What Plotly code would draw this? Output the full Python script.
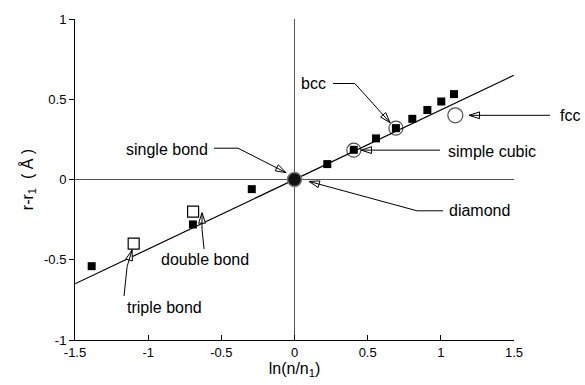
import math
import plotly.graph_objects as go

# ---- data ----
sq_x = [-1.386, -0.694, -0.292, 0.224, 0.405, 0.557, 0.693, 0.805, 0.908, 1.003, 1.090]
sq_y = [-0.54, -0.28, -0.06, 0.096, 0.185, 0.256, 0.32, 0.378, 0.433, 0.486, 0.532]
open_sq_x = [-1.099, -0.693]
open_sq_y = [-0.40, -0.20]
circ_x = [0.405, 0.693, 1.099]
circ_y = [0.183, 0.32, 0.40]
origin_x = [0.0]
origin_y = [0.0]
fit_x = [-1.5, 1.5]
fit_y = [-0.65, 0.65]
xtick_vals = [-1.5, -1, -0.5, 0, 0.5, 1, 1.5]
xtick_text = ["-1.5", "-1", "-0.5", "0", "0.5", "1", "1.5"]
ytick_vals = [-1, -0.5, 0, 0.5, 1]
ytick_text = ["-1", "-0.5", "0", "0.5", "1"]

# annotation labels: text, anchor point, xanchor, leader polyline (data coords, last = arrow tip)
labels = [
    ("bcc", (0.133, 0.598), "center", [(0.263, 0.598), (0.413, 0.598), (0.653, 0.354)]),
    ("fcc", (1.80, 0.40), "left", [(1.746, 0.40), (1.193, 0.40)]),
    ("simple cubic", (1.035, 0.177), "left", [(0.994, 0.183), (0.455, 0.183)]),
    ("diamond", (1.042, -0.195), "left", [(1.015, -0.195), (0.837, -0.195), (0.099, -0.012)]),
    ("single bond", (-0.577, 0.189), "right", [(-0.550, 0.195), (-0.386, 0.195), (-0.058, 0.043)]),
    ("double bond", (-0.612, -0.50), "center", [(-0.618, -0.433), (-0.632, -0.311), (-0.632, -0.207)]),
    ("triple bond", (-0.885, -0.799), "center", [(-1.165, -0.726), (-1.144, -0.543), (-1.110, -0.439)]),
]

XR = [-1.5, 1.5]
YR = [-1, 1]
ML, MR, MT, MB = 75, 71, 17, 40
W, H = 585, 385
PW, PH = W - ML - MR, H - MT - MB


def px(x):
    return (x - XR[0]) / (XR[1] - XR[0])


def py(y):
    return (y - YR[0]) / (YR[1] - YR[0])


FONT = "Liberation Sans, Arial, sans-serif"

fig = go.Figure()

fig.add_trace(go.Scatter(x=fit_x, y=fit_y, mode="lines",
                         line=dict(color="black", width=1.2), hoverinfo="skip"))
fig.add_trace(go.Scatter(x=circ_x, y=circ_y, mode="markers",
                         marker=dict(symbol="circle-open", size=[14, 14, 15],
                                     color="black", line=dict(width=1.2))))
fig.add_trace(go.Scatter(x=sq_x, y=sq_y, mode="markers",
                         marker=dict(symbol="square", size=8, color="black")))
fig.add_trace(go.Scatter(x=open_sq_x, y=open_sq_y, mode="markers",
                         marker=dict(symbol="square-open", size=11, color="black",
                                     line=dict(width=1.2))))
fig.add_trace(go.Scatter(x=origin_x, y=origin_y, mode="markers",
                         marker=dict(symbol="circle", size=14, color="#111",
                                     line=dict(color="#777", width=1.5))))

shapes = []
head_x, head_y, head_ang = [], [], []
annotations = []
for text, (tx, ty), xa, pts in labels:
    path = "M " + " L ".join(f"{px(x):.5f},{py(y):.5f}" for x, y in pts)
    shapes.append(dict(type="path", path=path, xref="paper", yref="paper",
                       line=dict(color="black", width=1)))
    (x1, y1), (x2, y2) = pts[-2], pts[-1]
    dxp = (x2 - x1) * PW / (XR[1] - XR[0])
    dyp = (y2 - y1) * PH / (YR[1] - YR[0])
    head_x.append(x2)
    head_y.append(y2)
    head_ang.append(math.degrees(math.atan2(dxp, dyp)))
    annotations.append(dict(text=text, x=px(tx), y=py(ty), xref="paper", yref="paper",
                            xanchor=xa, yanchor="middle", showarrow=False,
                            font=dict(family=FONT, size=16, color="black")))

fig.add_trace(go.Scatter(x=head_x, y=head_y, mode="markers", cliponaxis=False,
                         marker=dict(symbol="arrow", size=11, angle=head_ang,
                                     color="white", line=dict(color="black", width=1)),
                         hoverinfo="skip"))

fig.update_layout(
    width=W, height=H,
    margin=dict(l=ML, r=MR, t=MT, b=MB, pad=0),
    paper_bgcolor="white", plot_bgcolor="white",
    showlegend=False,
    shapes=shapes,
    annotations=annotations,
    font=dict(family=FONT, color="black"),
    xaxis=dict(range=XR, tickvals=xtick_vals, ticktext=xtick_text,
               showgrid=False, showline=True, linecolor="black", linewidth=1,
               ticks="inside", ticklen=5, tickcolor="black",
               zeroline=True, zerolinecolor="#555", zerolinewidth=1,
               tickfont=dict(size=13),
               title=dict(text="ln(n/n<sub>1</sub>)", font=dict(size=16), standoff=2)),
    yaxis=dict(range=YR, tickvals=ytick_vals, ticktext=ytick_text,
               showgrid=False, showline=True, linecolor="black", linewidth=1,
               ticks="outside", ticklen=5, tickcolor="black",
               zeroline=True, zerolinecolor="#555", zerolinewidth=1,
               tickfont=dict(size=13),
               title=dict(text="r-r<sub>1</sub>  ( Å )", font=dict(size=16), standoff=6)),
)

fig.write_html("out.html")
